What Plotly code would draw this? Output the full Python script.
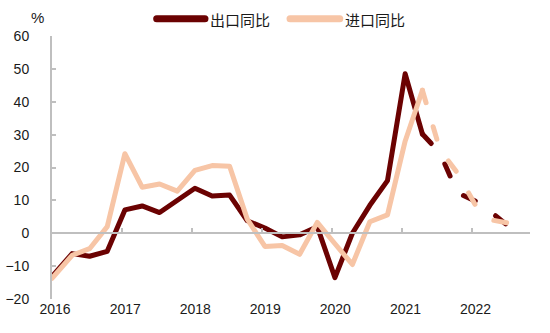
import plotly.graph_objects as go

# Quarterly observations (year-on-year growth, %)
quarters = [
    "2016-01-01", "2016-04-15", "2016-07-15", "2016-10-15",
    "2017-01-15", "2017-04-15", "2017-07-15", "2017-10-15",
    "2018-01-15", "2018-04-15", "2018-07-15", "2018-10-15",
    "2019-01-15", "2019-04-15", "2019-07-15", "2019-10-15",
    "2020-01-15", "2020-04-15", "2020-07-15", "2020-10-15",
    "2021-01-15", "2021-04-15", "2021-07-15", "2021-10-15",
    "2022-01-15", "2022-04-15", "2022-07-15",
]
export_yoy = [
    -13.2, -6.2, -7.0, -5.5,
    7.1, 8.3, 6.3, 9.8,
    13.7, 11.3, 11.6, 3.8,
    1.6, -1.1, -0.5, 2.0,
    -13.5, 0.0, 8.5, 16.0,
    48.5, 30.2, 24.5, 12.3,
    9.8, 6.1, 1.8,
]
import_yoy = [
    -13.7, -6.7, -4.7, 2.0,
    24.2, 14.0, 15.0, 12.8,
    19.1, 20.6, 20.4, 4.3,
    -4.0, -3.7, -6.4, 3.3,
    -3.2, -9.5, 3.5, 5.6,
    28.0, 43.5, 25.5, 18.3,
    8.7, 4.0, 3.0,
]
forecast_start = "2021-04-15"   # dashed from this quarter on
series_names = ["出口同比", "进口同比"]
year_labels = ["2016", "2017", "2018", "2019", "2020", "2021", "2022"]

DARK = "#6B0202"
LIGHT = "#F7C5A6"
AXIS = "#BFBFBF"
TEXT = "#1a1a1a"
FONT = "Liberation Sans, Arial, Noto Sans CJK SC, sans-serif"
CJK = "Noto Sans CJK SC, sans-serif"

split = quarters.index(forecast_start)
year_ticks = [f"{y}-01-01" for y in year_labels]

fig = go.Figure()
for values, color, name in [(export_yoy, DARK, series_names[0]),
                            (import_yoy, LIGHT, series_names[1])]:
    fig.add_trace(go.Scatter(
        x=quarters[:split + 1], y=values[:split + 1], mode="lines",
        line=dict(color=color, width=5), name=name, showlegend=False,
    ))
    fig.add_trace(go.Scatter(
        x=quarters[split:], y=values[split:], mode="lines",
        line=dict(color=color, width=5, dash="13px,25px"),
        name=name, showlegend=False,
    ))

x_range = ["2016-01-01", "2022-10-28"]
label_range = ["2015-12-16", "2022-10-12"]

fig.update_layout(
    width=550, height=333,
    margin=dict(l=52, r=20, t=35.5, b=33.5, autoexpand=False),
    paper_bgcolor="white", plot_bgcolor="white",
    font=dict(family=FONT, size=14, color=TEXT),
    xaxis=dict(
        type="date", range=x_range, anchor="free", position=0.25,
        showline=True, linecolor=AXIS, linewidth=2,
        ticks="inside", ticklen=4, tickwidth=2, tickcolor=AXIS,
        tickvals=year_ticks, showticklabels=False,
        showgrid=False, zeroline=False, automargin=False,
    ),
    xaxis2=dict(
        type="date", range=label_range, overlaying="x", anchor="y", side="bottom",
        tickvals=year_ticks, ticktext=year_labels, showline=False, ticks="",
        showgrid=False, zeroline=False, tickfont=dict(size=14, color=TEXT),
        automargin=False,
    ),
    yaxis=dict(
        range=[-20, 60], dtick=10, showline=True, linecolor=AXIS, linewidth=2,
        ticks="inside", ticklen=4, tickwidth=2, tickcolor=AXIS,
        showgrid=False, zeroline=False, ticklabelstandoff=18,
        tickfont=dict(size=14, color=TEXT), automargin=False,
    ),
    showlegend=False,
)

# hidden carrier so the label axis is rendered
fig.add_trace(go.Scatter(x=[quarters[0]], y=[export_yoy[0]], xaxis="x2",
                         mode="markers", marker=dict(opacity=0),
                         hoverinfo="skip", showlegend=False))

# legend swatches and labels above the plot
for (x0, x1, tx), color, name in [((0.219, 0.320, 0.326), DARK, series_names[0]),
                                  ((0.498, 0.602, 0.608), LIGHT, series_names[1])]:
    fig.add_shape(type="line", xref="paper", yref="paper",
                  x0=x0, x1=x1, y0=1.066, y1=1.066,
                  line=dict(color=color, width=7))
    fig.add_annotation(xref="paper", yref="paper", x=tx, y=1.064,
                       xanchor="left", yanchor="middle", showarrow=False,
                       text=name, font=dict(family=CJK, size=15, color=TEXT))

fig.add_annotation(xref="paper", yref="paper", x=-0.030, y=1.070,
                   xanchor="center", yanchor="middle", showarrow=False,
                   text="%", font=dict(size=15, color=TEXT))

round_caps = """
document.querySelectorAll('.scatterlayer path.js-line, .shapelayer path').forEach(function(p){
  p.style.strokeLinecap = 'round';
  p.style.strokeLinejoin = 'round';
});
"""

fig.write_html("out.html", post_script=round_caps)
